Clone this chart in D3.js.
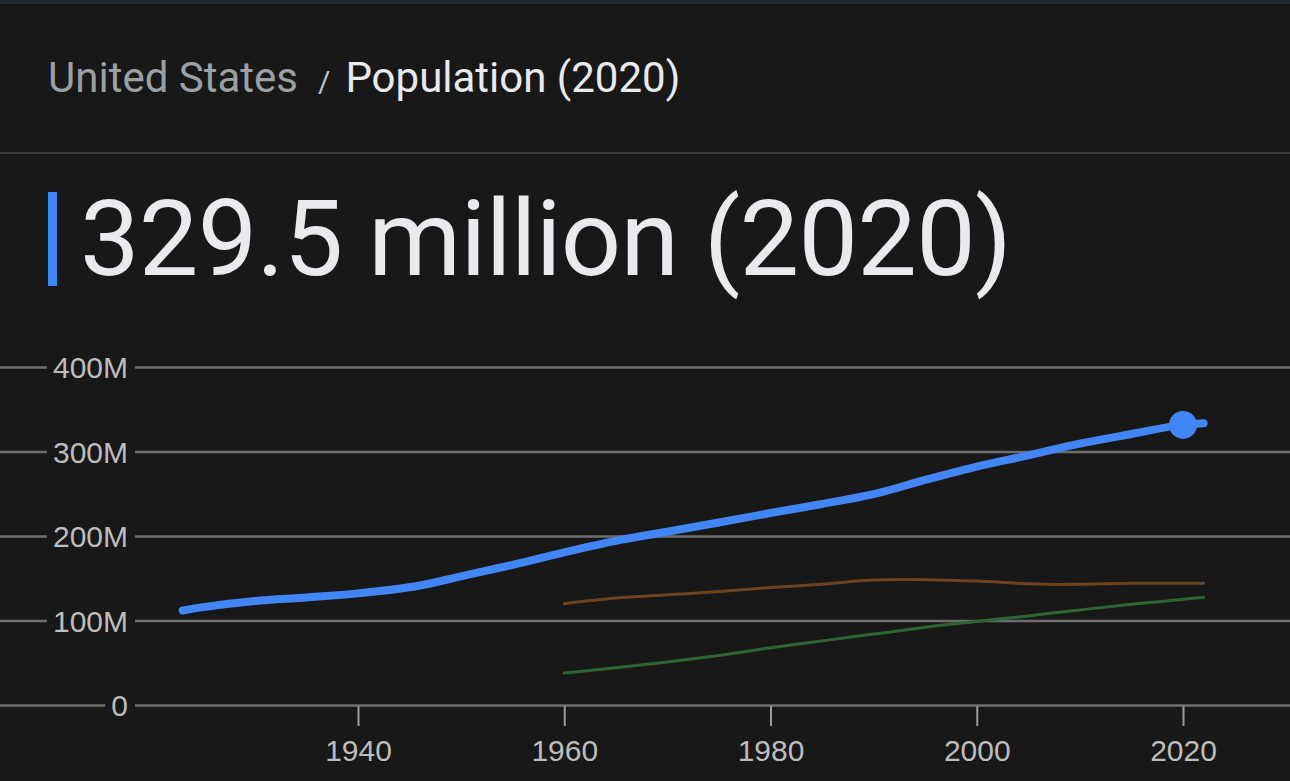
<!DOCTYPE html>
<html>

<head>
    <title>population</title>
    <style>
    body {
        margin: 0;
        background: #181818;
        overflow: hidden;
    }

    svg.chart {
        display: block;
        font-family: Roboto, "Noto Sans", sans-serif;
    }

    g.yaxis path.domain,
    g.xaxis path.domain {
        stroke-opacity: 0;
    }

    g.yaxis g.tick line {
        stroke: #6e6e6e;
        stroke-width: 2.5;
    }

    g.xaxis g.tick line {
        stroke: #9a9a9a;
        stroke-width: 2;
    }

    g.tick text {
        fill: #bdbdbd;
        font-size: 30px;
    }

    path.line {
        fill: none;
        stroke-linecap: round;
        stroke-linejoin: round;
    }
    </style>
</head>

<body>
    <svg id="chart" class="chart" width="1290" height="781"></svg>
    <script src="https://d3js.org/d3.v7.min.js"></script>
    <script>
    // values (millions)
    let us_years = [1923, 1925, 1930, 1935, 1940, 1946, 1950, 1955, 1960, 1965, 1970, 1975, 1980, 1985, 1990, 1995, 2000, 2005, 2010, 2015, 2020, 2022];
    let us_pop = [111.9, 115.8, 123.1, 127.3, 132.1, 141.4, 152.3, 165.9, 180.7, 194.3, 205.1, 216.0, 227.2, 237.9, 249.6, 266.3, 282.2, 295.5, 309.3, 320.7, 331.5, 333.3];

    let other_years = [1960, 1965, 1970, 1975, 1980, 1985, 1990, 1993, 1995, 2000, 2005, 2008, 2010, 2015, 2020, 2022];
    let russia_pop = [119.9, 126.5, 130.4, 134.2, 139.0, 143.0, 148.0, 148.5, 148.3, 146.6, 143.5, 142.7, 142.8, 144.1, 144.1, 144.2];
    let mexico_pop = [37.8, 44.0, 50.8, 58.7, 67.7, 75.9, 83.9, 88.7, 92.0, 98.9, 105.4, 109.8, 112.5, 119.1, 125.1, 127.5];

    let y_ticks = [0, 100, 200, 300, 400];
    let x_ticks = [1940, 1960, 1980, 2000, 2020];
    let highlight_year = 2020;

    let svg = d3.select('svg#chart');
    let width = 1290;

    // top strip + header
    svg.append('rect').attr('x', 0).attr('y', 0).attr('width', width).attr('height', 4).attr('fill', '#262b31');

    let crumb = svg.append('text')
        .attr('x', 48)
        .attr('y', 92)
        .style('font-size', '42px')
    crumb.append('tspan').attr('fill', '#9aa0a6').text('United States');
    crumb.append('tspan').attr('fill', '#bdc1c6').attr('dx', 20).style('font-size', '30px').text('/');
    crumb.append('tspan').attr('fill', '#e8eaed').attr('dx', 15).text('Population (2020)');

    svg.append('line')
        .attr('x1', 0).attr('x2', width)
        .attr('y1', 153).attr('y2', 153)
        .attr('stroke', '#3a3a3a')
        .attr('stroke-width', 2);

    svg.append('rect')
        .attr('x', 48).attr('y', 192)
        .attr('width', 9).attr('height', 94)
        .attr('fill', '#4285f4');

    svg.append('text')
        .attr('x', 80)
        .attr('y', 275)
        .attr('fill', '#e8eaed')
        .attr('textLength', 932)
        .style('font-size', '106px')
        .text('329.5 million (2020)');

    // scales
    let x_scale = d3.scaleLinear()
        .domain([1940, 2020])
        .range([358, 1183]);
    let y_scale = d3.scaleLinear()
        .domain([0, 400])
        .range([705, 367]);

    // gridlines
    let y_axis = svg.append('g')
        .classed('yaxis', true)
        .attr('transform', 'translate(' + width + ',0)')
        .call(d3.axisLeft(y_scale)
            .tickValues(y_ticks)
            .tickSize(width)
            .tickPadding(0)
            .tickFormat(function(d) { return d == 0 ? '0' : d + 'M'; }));

    // labels sit on a background patch that cuts the gridline
    y_axis.selectAll('g.tick').each(function() {
        let tick = d3.select(this);
        let text = tick.select('text')
            .attr('x', 128 - width)
            .attr('dy', '0.36em')
            .attr('text-anchor', 'end');
        let box = text.node().getBBox();
        tick.insert('rect', 'text')
            .attr('x', box.x - 6)
            .attr('y', -6)
            .attr('width', box.width + 13)
            .attr('height', 12)
            .attr('fill', '#181818');
    });

    svg.append('g')
        .classed('xaxis', true)
        .attr('transform', 'translate(0,706)')
        .call(d3.axisBottom(x_scale)
            .tickValues(x_ticks)
            .tickSize(20)
            .tickPadding(14)
            .tickFormat(d3.format('d')));

    // lines
    let line = d3.line()
        .curve(d3.curveMonotoneX)
        .x(function(d) { return x_scale(d[0]); })
        .y(function(d) { return y_scale(d[1]); });

    let series = [
        { 'years': other_years, 'values': mexico_pop, 'color': '#2d6633', 'width': 3 },
        { 'years': other_years, 'values': russia_pop, 'color': '#6e4420', 'width': 3 },
        { 'years': us_years, 'values': us_pop, 'color': '#4285f4', 'width': 8 },
    ];

    series.forEach(function(s) {
        let pts = s.years.map(function(y, i) { return [y, s.values[i]]; });
        svg.append('path')
            .classed('line', true)
            .attr('stroke', s.color)
            .attr('stroke-width', s.width)
            .attr('d', line(pts));
    });

    let hi = us_years.indexOf(highlight_year);
    svg.append('circle')
        .attr('cx', x_scale(highlight_year))
        .attr('cy', y_scale(us_pop[hi]))
        .attr('r', 14)
        .attr('fill', '#4285f4');
    </script>
</body>

</html>
